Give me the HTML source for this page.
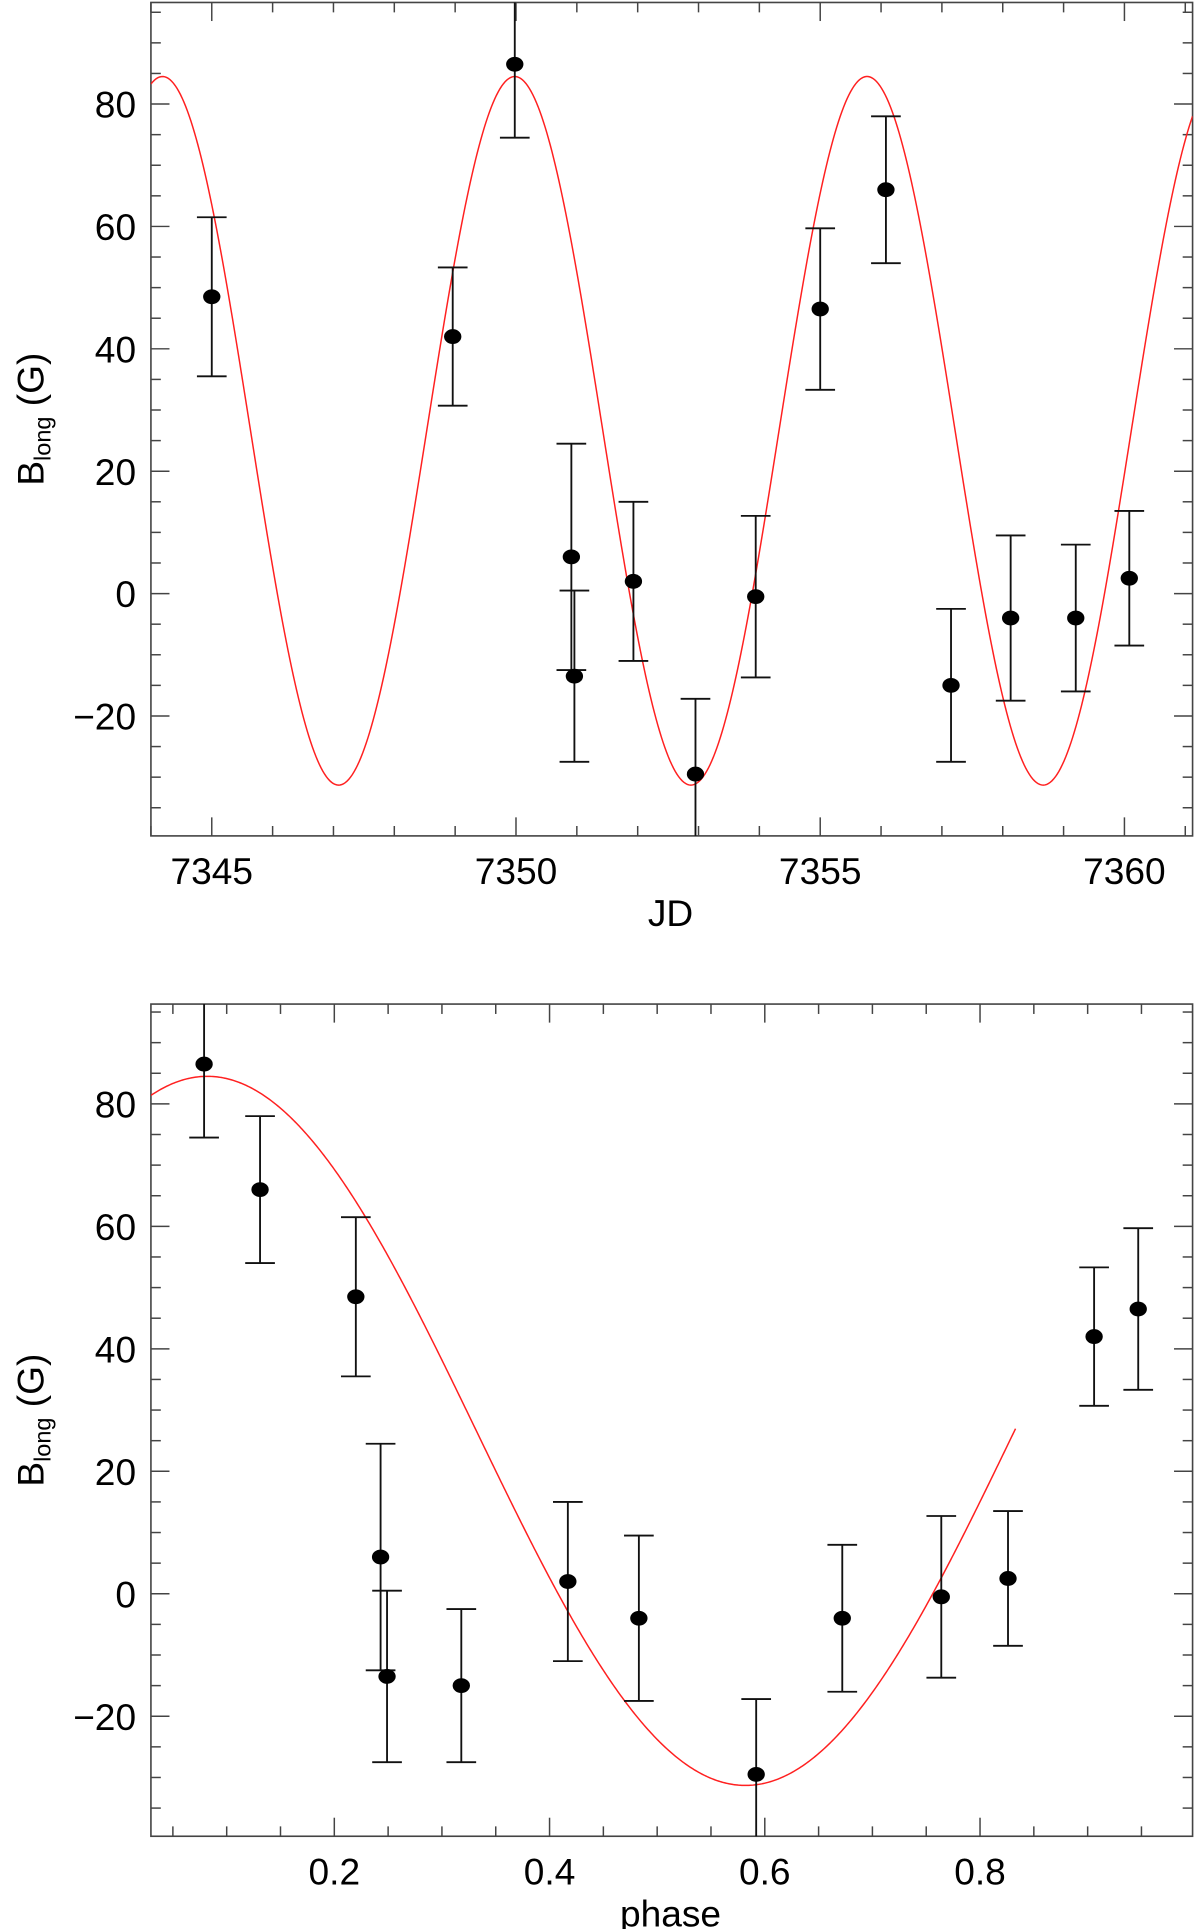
<!DOCTYPE html>
<html><head><meta charset="utf-8"><style>
html,body{margin:0;padding:0;background:#fff}
svg{display:block}
text{font-family:"Liberation Sans",sans-serif;fill:#000}
</style></head><body>
<svg id="chart" width="1200" height="1929" viewBox="0 0 970 1560" preserveAspectRatio="none" xmlns="http://www.w3.org/2000/svg">
<defs>
<clipPath id="clipTop"><rect x="122" y="2" width="842" height="674"/></clipPath>
<clipPath id="clipBot"><rect x="122" y="812" width="842" height="673"/></clipPath>
</defs>
<g id="top"></g>
<g id="bot"></g>
</svg>
<script>
const jd = [7345.0, 7348.96, 7349.98, 7350.91, 7350.96, 7351.93, 7352.95, 7353.94, 7355.0, 7356.08, 7357.15, 7358.13, 7359.2, 7360.08];
const bTop = [48.5, 42, 86.5, 6, -13.5, 2, -29.5, -0.5, 46.5, 66, -15, -4, -4, 2.5];
const errTop = [13, 11.3, 12, 18.5, 14, 13, 12.3, 13.2, 13.2, 12, 12.5, 13.5, 12, 11];
const phase = [0.079, 0.131, 0.220, 0.243, 0.249, 0.318, 0.417, 0.483, 0.592, 0.672, 0.764, 0.826, 0.906, 0.947];
const bPhase = [86.5, 66, 48.5, 6, -13.5, -15, 2, -4, -29.5, -4, -0.5, 2.5, 42, 46.5];
const errPhase = [12, 12, 13, 18.5, 14, 12.5, 13, 13.5, 12.3, 12, 13.2, 11, 11.3, 13.2];
const xTicksTop = [7345, 7350, 7355, 7360];
const xTicksBot = [0.2, 0.4, 0.6, 0.8];
const yTicks = [-20, 0, 20, 40, 60, 80];
const fitMean = 26.6, fitAmp = 57.9, fitT0 = 7349.98, fitP = 5.79, fitPhi0 = 0.082;

const NS = "http://www.w3.org/2000/svg";
function mk(parent, tag, attrs){const e=document.createElementNS(NS,tag);for(const k in attrs)e.setAttribute(k,attrs[k]);parent.appendChild(e);return e;}

function panel(g, o){
  const L=122,R=964,T=o.top,B=o.bot;
  const xs=v=>L+(v-o.xmin)/(o.xmax-o.xmin)*(R-L);
  const ys=v=>B-(v-o.ymin)/(o.ymax-o.ymin)*(B-T);
  const frame=mk(g,'rect',{x:L,y:T,width:R-L,height:B-T,fill:'none',stroke:'#444','stroke-width':1.3});
  
  
  for(let v=Math.ceil(o.xmin/o.xminor-1e-9)*o.xminor; v<=o.xmax+1e-9; v+=o.xminor){
    const vv=Math.round(v/o.xminor)*o.xminor;
    const major=Math.abs(vv/o.xmajor-Math.round(vv/o.xmajor))<1e-6;
    const len=major?15:8, x=xs(vv);
    mk(g,'line',{x1:x,y1:B,x2:x,y2:B-len,stroke:'#444','stroke-width':1.2});
    mk(g,'line',{x1:x,y1:T,x2:x,y2:T+len,stroke:'#444','stroke-width':1.2});
  }
  for(let v=Math.ceil(o.ymin/5)*5; v<=o.ymax; v+=5){
    const major=v%20===0, len=major?15:8, y=ys(v);
    mk(g,'line',{x1:L,y1:y,x2:L+len,y2:y,stroke:'#444','stroke-width':1.2});
    mk(g,'line',{x1:R,y1:y,x2:R-len,y2:y,stroke:'#444','stroke-width':1.2});
  }
  o.xt.forEach(v=>{const t=mk(g,'text',{x:xs(v),y:B+39,'font-size':30,'text-anchor':'middle'});t.textContent=o.fmt(v);
    
    });
  yTicks.forEach(v=>{const t=mk(g,'text',{x:L-12,y:ys(v)+11,'font-size':30,'text-anchor':'end'});t.textContent=v<0?'\u2212'+(-v):String(v);
    
    });
  const xl=mk(g,'text',{x:o.xlx,y:B+73,'font-size':30,'text-anchor':'middle'});xl.textContent=o.xlabel;
  
  
  const yc=(T+B)/2;
  const yl=mk(g,'text',{x:0,y:0,'font-size':30,'text-anchor':'middle',transform:`translate(35,${yc}) rotate(-90)`});
  yl.innerHTML='B<tspan font-size="19" dy="6">long</tspan><tspan dy="-6"> (G)</tspan>';
  
  
  const cg=mk(g,'g',{'clip-path':`url(#${o.clip})`});
  let d='';const n=600;
  for(let i=0;i<=n;i++){const v=o.cx0+(o.cx1-o.cx0)*i/n;d+=(i?'L':'M')+xs(v).toFixed(2)+' '+ys(o.f(v)).toFixed(2);}
  const c=mk(cg,'path',{d:d,fill:'none',stroke:'#ff2020','stroke-width':1.2});
  
  
  o.x.forEach((xv,i)=>{
    const x=xs(xv),y=ys(o.y[i]),y1=ys(o.y[i]+o.e[i]),y2=ys(o.y[i]-o.e[i]);
    const eb=mk(cg,'path',{d:`M${x} ${y1}V${y2}M${x-12} ${y1}H${x+12}M${x-12} ${y2}H${x+12}`,stroke:'#111','stroke-width':1.5,fill:'none'});
    
    
    const p=mk(cg,'ellipse',{cx:x,cy:y,rx:7,ry:6,fill:'#000'});
    
    
  });
}
panel(document.getElementById('top'),{top:2,bot:676,xmin:7344.0,xmax:7361.12,ymin:-39.6,ymax:96.6,
  xminor:1,xmajor:5,xt:xTicksTop,fmt:v=>String(v),xlabel:'JD',xlx:542,clip:'clipTop',
  x:jd,y:bTop,e:errTop,cx0:7344.0,cx1:7361.12,f:t=>fitMean+fitAmp*Math.cos(2*Math.PI*(t-fitT0)/fitP)});
panel(document.getElementById('bot'),{top:812,bot:1485,xmin:0.0296,xmax:0.9975,ymin:-39.6,ymax:96.3,
  xminor:0.05,xmajor:0.2,xt:xTicksBot,fmt:v=>v.toFixed(1),xlabel:'phase',xlx:542,clip:'clipBot',
  x:phase,y:bPhase,e:errPhase,cx0:0.0296,cx1:0.833,f:p=>fitMean+fitAmp*Math.cos(2*Math.PI*(p-fitPhi0))});
</script>
</body></html>
